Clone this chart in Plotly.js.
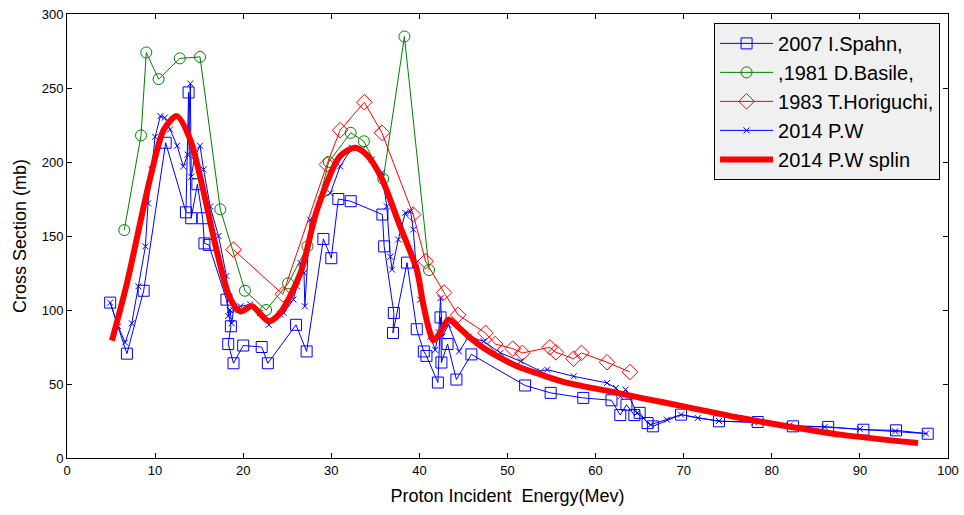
<!DOCTYPE html>
<html>
<head>
<meta charset="utf-8">
<script src="https://cdn.plot.ly/plotly-3.0.1.min.js"></script>
<style>html,body{margin:0;padding:0;background:#fff;}#chart{width:964px;height:515px;}</style>
</head>
<body>
<div id="chart"></div>
<script>
// 2007 I.Spahn
const spahnX = [4.9, 6.8, 8.7, 11.2, 13.5, 13.8, 14.1, 14.8, 15.4, 15.6, 16.1, 18.1, 18.6, 18.3, 18.9, 20.0, 22.1, 22.8, 26.0, 27.2, 29.1, 30.0, 30.8, 32.2, 35.8, 36.0, 37.1, 37.0, 38.6, 39.7, 40.5, 40.8, 42.1, 42.4, 42.5, 43.2, 44.2, 45.9, 52.0, 54.9, 58.6, 61.8, 62.8, 63.5, 64.4, 65.0, 65.9, 66.5, 69.7, 74.0, 78.4, 82.4, 86.4, 90.4, 94.1, 97.7];
const spahnY = [105, 70.5, 113, 213, 166, 247, 162, 185, 162, 145, 144, 107, 89, 77, 64, 76, 75, 64, 90, 72, 148, 135, 175, 173.5, 164.5, 143, 98, 84.5, 132, 87, 72, 69, 51, 95, 64.5, 77, 53, 70, 49, 44, 40.6, 39, 29, 36, 29, 30.5, 23.6, 21.4, 29.3, 24.8, 24.3, 21.4, 21, 19.1, 18.7, 16.4];

// 1981 D.Basile
const basileX = [6.5, 8.4, 9.0, 10.4, 12.8, 15.1, 17.4, 20.2, 22.6, 25.1, 27.3, 29.7, 32.2, 33.7, 35.9, 38.3, 41.1];
const basileY = [154, 218, 274, 256, 270, 271, 168, 113, 100, 118, 143, 200, 219.7, 214, 188.6, 284.8, 127];

// 1983 T.Horiguchi
const horiX = [18.9, 24.5, 29.5, 31.0, 33.75, 35.75, 39.3, 40.7, 42.8, 44.4, 47.5, 48.6, 50.6, 51.7, 54.8, 55.5, 57.5, 58.4, 61.3, 63.9];
const horiY = [140.8, 110.6, 198.3, 221.5, 240.4, 219.7, 164.5, 133, 111.8, 96.7, 84.5, 77, 73.9, 71, 74.8, 71.4, 67.1, 71, 64.7, 58.1];

// 2014 P.W
const pwX = [4.9, 5.8, 6.6, 7.35, 8.1, 8.9, 9.2, 9.6, 10.0, 10.6, 11.1, 11.7, 12.5, 13.2, 13.7, 14.0, 14.1, 14.5, 15.1, 15.5, 16.25, 17.2, 18.1, 18.3, 18.5, 18.7, 18.9, 19.7, 20.8, 21.9, 22.9, 24.2, 24.6, 25.7, 26.1, 26.5, 26.9, 27.0, 27.6, 28.0, 28.75, 29.9, 31.0, 32.35, 33.5, 34.6, 35.75, 36.3, 36.7, 36.9, 37.6, 38.4, 39.0, 39.3, 39.6, 40.1, 41.25, 41.8, 42.2, 42.4, 42.6, 43.3, 44.5, 45.6, 47.3, 49.2, 51.5, 53.75, 54.5, 57.5, 61.3, 62.3, 62.8, 63.4, 63.8, 64.7, 66.25, 68.1, 69.7, 71.6, 74.0, 78.0, 82.0, 86.0, 90.0, 94.0, 97.5];
const pwY = [105, 89, 78, 91, 116, 143, 172, 195, 217, 231, 230, 222, 211, 197, 205, 253, 190, 204, 211, 195, 170, 150, 123, 96, 100, 91, 100, 102.5, 103.8, 98, 90, 97, 98, 107, 116, 131.8, 125, 102.5, 161, 161, 174.6, 179, 197, 209.6, 208.4, 201.7, 192.7, 170, 136, 127.3, 147.6, 165.6, 166.7, 154.4, 131.8, 107, 82, 73, 85, 108, 82, 90, 72, 82, 78.8, 71, 65.3, 58.6, 59.7, 55.2, 50.7, 47.3, 41.6, 46.2, 41.6, 30.4, 22.5, 25.9, 29.3, 27, 25, 24, 22, 21, 19.5, 18, 16.5];

// 2014 P.W splin
const splX = [5.1, 6.8, 9.4, 11.0, 12.47, 14.0, 15.5, 17.0, 18.5, 19.7, 21.0, 22.9, 24.2, 26.5, 28.4, 31.0, 32.7, 34.0, 35.6, 37.8, 39.7, 40.4, 41.0, 41.6, 42.3, 43.3, 44.5, 45.8, 47.3, 49.2, 51.1, 53.8, 56.8, 62.5, 65.1, 70.0, 76.5, 82.2, 87.8, 96.6];
const splY = [79.3, 118, 188, 222, 231, 215, 180, 140, 108, 99, 102.5, 92.4, 98, 125, 168, 204, 209.6, 205, 190.4, 156.6, 127.3, 105, 89, 79.5, 84, 93.5, 88, 81, 74.4, 67.6, 62, 56.3, 50.7, 44, 40.6, 34.9, 27, 21, 15.8, 10.1];

const traces = [
  {x: spahnX, y: spahnY, name: '2007 I.Spahn,', type: 'scatter', mode: 'lines+markers',
   line: {color: '#0000ff', width: 1}, marker: {symbol: 'square-open', size: 11, color: '#0000ff', line: {width: 1}}},
  {x: basileX, y: basileY, name: ',1981 D.Basile,', type: 'scatter', mode: 'lines+markers',
   line: {color: '#008000', width: 1}, marker: {symbol: 'circle-open', size: 11, color: '#008000', line: {width: 1}}},
  {x: horiX, y: horiY, name: '1983 T.Horiguchi,', type: 'scatter', mode: 'lines+markers',
   line: {color: '#ff0000', width: 1}, marker: {symbol: 'diamond-open', size: 12, color: '#ff0000', line: {width: 1}}},
  {x: pwX, y: pwY, name: '2014 P.W', type: 'scatter', mode: 'lines+markers',
   line: {color: '#0000ff', width: 1}, marker: {symbol: 'x-thin-open', size: 6, color: '#0000ff', line: {width: 1, color: '#0000ff'}}},
  {x: splX, y: splY, name: '2014 P.W splin', type: 'scatter', mode: 'lines',
   line: {color: '#ff0000', width: 6, shape: 'spline', smoothing: 0.8}}
];

const layout = {
  width: 964, height: 515,
  margin: {l: 67, r: 16, t: 14, b: 57},
  paper_bgcolor: '#ffffff', plot_bgcolor: '#ffffff',
  font: {family: 'Liberation Sans, Arial, sans-serif', size: 13, color: '#000'},
  showlegend: true,
  legend: {x: 0.991, y: 0.98, xanchor: 'right', yanchor: 'top', bgcolor: '#f0f0f0',
           bordercolor: '#000', borderwidth: 1, font: {size: 20, family: 'Liberation Sans, Arial, sans-serif'},
           tracegroupgap: 0, itemwidth: 53},
  xaxis: {range: [0, 100], dtick: 10, tick0: 0, ticks: 'inside', ticklen: 5, tickcolor: '#000',
          showgrid: false, zeroline: false, showline: true, linecolor: '#000', linewidth: 1, mirror: 'ticks',
          title: {text: 'Proton Incident  Energy(Mev)', font: {size: 18}, standoff: 12}},
  yaxis: {range: [0, 300], dtick: 50, tick0: 0, ticks: 'inside', ticklen: 5, tickcolor: '#000',
          showgrid: false, zeroline: false, showline: true, linecolor: '#000', linewidth: 1, mirror: 'ticks',
          title: {text: 'Cross Section (mb)', font: {size: 18}, standoff: 10}}
};

Plotly.newPlot('chart', traces, layout, {displayModeBar: false, staticPlot: true});
</script>
</body>
</html>
